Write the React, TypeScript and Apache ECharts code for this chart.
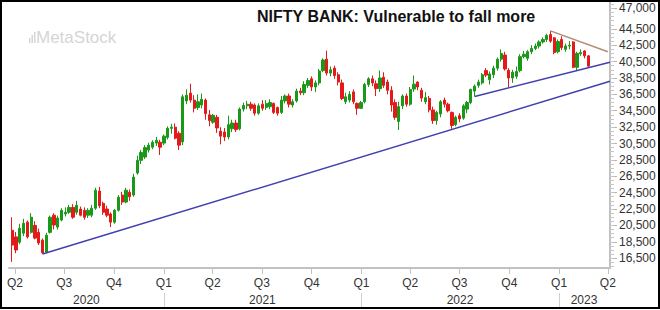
import React, { useEffect, useRef } from 'react';
import * as echarts from 'echarts';

const TITLE = 'NIFTY BANK: Vulnerable to fall more';
const WATERMARK = 'MetaStock';
const FIRST_WEEK_ENDING = '2020-03-27';

// weekly candles: [open, close, low, high]
const candles2020: number[][] = [
  [19900, 18100, 16050, 21500], [19100, 17500, 17100, 19700], [18450, 20150, 18200, 20700],
  [19550, 20750, 19200, 21300], [20900, 19100, 18900, 21100], [19650, 21500, 19500, 22000],
  [20500, 18950, 18800, 21000], [19650, 18350, 18100, 20100], [18700, 17150, 17000, 18900],
  [17250, 19300, 17100, 19600], [19650, 21500, 19500, 21700], [21750, 20550, 20000, 22000],
  [20300, 21400, 20000, 21700], [21150, 22350, 21000, 22600], [21900, 22100, 21600, 22700],
  [22100, 22700, 21900, 23000], [22700, 21500, 21300, 23100], [22100, 22950, 21800, 23500],
  [22500, 21750, 21600, 22800], [22350, 21500, 21200, 22700], [21750, 22350, 21400, 22600],
  [21750, 22600, 21500, 23000], [22600, 24800, 22400, 25100], [24700, 22900, 22600, 25200],
  [23200, 22100, 21800, 23400], [22500, 21750, 21500, 22900], [21900, 20900, 20300, 22100],
  [20900, 22350, 20700, 22500], [22350, 23950, 22200, 24200], [24200, 23350, 23000, 24600],
  [23350, 24800, 23200, 25100], [24550, 24000, 23500, 24900], [24200, 26400, 24000, 26800],
  [26900, 28450, 26700, 29000], [28450, 29400, 28000, 29700], [28850, 30000, 28600, 30300],
  [29700, 30300, 29400, 30600], [30050, 30650, 29800, 30900], [30550, 30900, 30200, 31300],
  [30650, 30050, 29100, 30950],
];
const candles2021: number[][] = [
  [30550, 31400, 30300, 31600], [31250, 32350, 31000, 32600], [32350, 32500, 31700, 32900],
  [32500, 31150, 31000, 32950], [31750, 30300, 29700, 32000], [30700, 36200, 30300, 36500],
  [35700, 36400, 35300, 37100], [36650, 35800, 35500, 37800], [35800, 34800, 34300, 36400],
  [34900, 35600, 34600, 36500], [35200, 35900, 34800, 36600], [35800, 34150, 33400, 36000],
  [34000, 33300, 32600, 34600], [33100, 33950, 32900, 34100], [33700, 32400, 31800, 34000],
  [32000, 31400, 30400, 32500], [31900, 31300, 30800, 32400], [31300, 32800, 31000, 33900],
  [32300, 33000, 31900, 33400], [33000, 32200, 31900, 33400], [32300, 34700, 32100, 34900],
  [34700, 35150, 34400, 35500], [35100, 35300, 34700, 35700], [35300, 34800, 34500, 35600],
  [35200, 34200, 33900, 35400], [34200, 35100, 34000, 35400], [35300, 34800, 34500, 35800],
  [34900, 35400, 34600, 35800], [35000, 35500, 34700, 35900], [35400, 34300, 34100, 35500],
  [34900, 34200, 33900, 35000], [34300, 35800, 34100, 36300], [35700, 36300, 35400, 36500],
  [36300, 35300, 34900, 36600], [35200, 35600, 34900, 35900], [35700, 36900, 35500, 37200],
  [36900, 36700, 36400, 37300], [36700, 37700, 36400, 38100], [37600, 38200, 37300, 38500],
  [38400, 37400, 36900, 38700], [37400, 37900, 36800, 38200], [37900, 39350, 37600, 39600],
  [39400, 40700, 39200, 40900], [40800, 39100, 38800, 41830], [39100, 39500, 38700, 39900],
  [39700, 38800, 38400, 40000], [38900, 38000, 37600, 39200], [37900, 36000, 35800, 38300],
  [35600, 36200, 35300, 36700], [35800, 36500, 35500, 36900], [36800, 35600, 35300, 37100],
  [35400, 34800, 34000, 35500], [34800, 35500, 34700, 35700],
];
const candles2022: number[][] = [
  [35600, 37700, 35400, 37900], [37700, 38400, 37400, 38600], [38400, 37900, 37500, 38800],
  [37800, 37200, 36300, 38200], [37200, 38500, 36800, 39400], [38600, 37600, 37300, 39200],
  [38000, 37000, 36500, 38300], [37000, 35200, 34400, 37500], [35500, 33700, 33400, 35900],
  [33200, 35000, 32150, 35600], [35100, 36300, 34700, 36500], [36300, 35300, 35000, 36600],
  [35300, 37100, 35100, 37400], [37150, 37750, 36800, 38800], [38000, 37400, 37000, 38100],
  [37000, 36050, 35600, 37300], [35600, 36100, 35300, 36800], [36000, 34600, 34300, 36300],
  [34600, 33300, 32900, 35000], [33300, 34300, 32800, 34500], [34100, 35600, 33700, 35800],
  [35800, 35300, 34900, 36100], [35300, 34500, 34300, 35500], [34300, 32700, 32300, 34400],
  [32800, 33700, 32600, 33900], [33900, 33500, 33100, 34200], [33600, 35100, 33400, 35300],
  [34700, 35500, 34200, 35700], [35500, 37100, 35300, 37200], [36900, 37500, 36250, 37700],
  [37600, 38000, 37300, 38300], [37900, 38900, 37700, 39100], [39400, 38850, 38600, 39700],
  [38300, 39000, 37700, 39300], [38900, 39700, 38500, 40000], [39700, 40800, 39400, 41000],
  [40800, 41500, 40500, 42000], [41300, 39600, 39400, 41700], [39450, 38500, 37400, 39700],
  [38500, 39200, 37900, 39500], [38700, 39300, 38400, 39900], [39400, 41100, 39200, 41400],
  [41100, 41400, 40900, 41800], [40900, 41700, 40600, 41900], [41700, 42100, 41400, 42500],
  [42100, 42400, 41900, 42700], [42400, 42900, 42100, 43100], [42900, 43200, 42700, 43450],
  [43200, 43700, 42900, 43900], [43800, 43000, 42800, 44250], [43400, 41600, 41400, 43500],
  [41700, 42950, 41500, 43200],
];
const candles2023: number[][] = [
  [43200, 42200, 41900, 43600], [42000, 42400, 41700, 42700], [42400, 42500, 42000, 43000],
  [42900, 39800, 39700, 43000], [39800, 41500, 39400, 41700], [41450, 41600, 41200, 42000],
  [41800, 41200, 40900, 41900], [41200, 39950, 39800, 41300],
];

// trend lines: [date, value]
const lowerSupport: [string, number][] = [['2020-05-22', 17000], ['2023-04-05', 38100]];
const upperSupport: [string, number][] = [['2022-07-29', 36250], ['2023-04-05', 40430]];
const resistance: [string, number][] = [['2022-12-16', 44250], ['2023-04-01', 41700]];

// axes
const X_MIN = '2020-03-21';
const X_MAX = '2023-04-05';
const Y_MIN = 15300;
const Y_MAX = 47900;
const yLabelValues = [16500, 18500, 20500, 22500, 24500, 26500, 28500, 30500, 32500, 34500, 36500, 38500, 40500, 42500, 44500, 47000];
const Y_MINOR_STEP = 500;
const quarterStarts = [
  '2020-04-01', '2020-07-01', '2020-10-01', '2021-01-01', '2021-04-01', '2021-07-01', '2021-10-01',
  '2022-01-01', '2022-04-01', '2022-07-01', '2022-10-01', '2023-01-01', '2023-04-01',
];
const yearBoundaries = ['2021-01-01', '2022-01-01', '2023-01-01'];
const yearLabelAnchors = ['2020-08-11', '2021-07-02', '2022-07-02', '2023-02-16'];

const FONT = '"Liberation Sans", Arial, sans-serif';
const UP = '#1a981a';
const DOWN = '#e41a1a';
const AXIS_GREY = '#c2c2c2';
const LABEL = '#333333';

const toTs = (s: string) => {
  const [y, m, d] = s.split('-').map(Number);
  return Date.UTC(y, m - 1, d);
};

export default function App() {
  const ref = useRef<HTMLDivElement>(null);
  useEffect(() => {
    if (!ref.current) return;
    const chart = echarts.init(ref.current, undefined, { renderer: 'svg' });
    const DAY = 86400000;
    const base = toTs(FIRST_WEEK_ENDING);
    const all = [...candles2020, ...candles2021, ...candles2022, ...candles2023];
    const candleData = all.map((c, i) => [base + i * 7 * DAY, c[0], c[1], c[2], c[3]]);
    const minorTicks: number[] = [];
    for (let v = Math.ceil(Y_MIN / Y_MINOR_STEP) * Y_MINOR_STEP; v <= Y_MAX; v += Y_MINOR_STEP) minorTicks.push(v);
    const line = (pts: [string, number][], color: string) => ({
      type: 'line',
      data: pts.map((p) => [toTs(p[0]), p[1]]),
      showSymbol: false,
      symbol: 'none',
      silent: true,
      z: 5,
      lineStyle: { color, width: 1.5 },
    });
    const xBase = {
      type: 'value',
      min: toTs(X_MIN),
      max: toTs(X_MAX),
      scale: true,
      splitLine: { show: false },
      minorTick: { show: false },
    };
    const option: any = {
      animation: false,
      backgroundColor: '#ffffff',
      title: {
        text: TITLE,
        left: 257,
        top: 8,
        padding: 0,
        textStyle: { fontSize: 16, fontWeight: 'bold', color: '#111111', fontFamily: FONT },
      },
      graphic: [
        { type: 'text', left: 36, top: 29, silent: true, style: { text: WATERMARK, fontSize: 17, fill: '#d5d5d5', fontFamily: FONT } },
        { type: 'rect', shape: { x: 29, y: 38, width: 1.5, height: 5 }, style: { fill: '#d5d5d5' }, silent: true },
        { type: 'rect', shape: { x: 31.5, y: 35, width: 1.5, height: 8 }, style: { fill: '#d5d5d5' }, silent: true },
        { type: 'rect', shape: { x: 34, y: 32, width: 1.5, height: 11 }, style: { fill: '#d5d5d5' }, silent: true },
      ],
      grid: { left: 9, right: 50, top: 1, bottom: 42, containLabel: false, outerBoundsMode: 'none' },
      xAxis: [
        {
          ...xBase,
          position: 'bottom',
          axisLine: { show: true, onZero: false, lineStyle: { color: AXIS_GREY, width: 2 } },
          axisTick: { show: true, length: 6, customValues: quarterStarts.map(toTs), lineStyle: { color: AXIS_GREY, width: 1 } },
          axisLabel: {
            show: true,
            customValues: quarterStarts.map(toTs),
            margin: 9,
            color: LABEL,
            fontSize: 12,
            fontFamily: FONT,
            showMinLabel: true,
            showMaxLabel: true,
            formatter: (v: number) => 'Q' + (Math.floor(new Date(v).getUTCMonth() / 3) + 1),
          },
        },
        {
          ...xBase,
          position: 'bottom',
          offset: 25,
          axisLine: { show: false, onZero: false },
          axisTick: { show: true, length: 15, inside: false, customValues: yearBoundaries.map(toTs), lineStyle: { color: '#cfcfcf', width: 1 } },
          axisLabel: {
            show: true,
            customValues: yearLabelAnchors.map(toTs),
            margin: 1,
            color: LABEL,
            fontSize: 12,
            fontFamily: FONT,
            showMinLabel: true,
            showMaxLabel: true,
            formatter: (v: number) => String(new Date(v).getUTCFullYear()),
          },
        },
      ],
      yAxis: [
        {
          type: 'value',
          position: 'right',
          min: Y_MIN,
          max: Y_MAX,
          splitLine: { show: false },
          axisLine: { show: true, onZero: false, lineStyle: { color: AXIS_GREY, width: 2 } },
          axisTick: { show: true, length: 7, customValues: yLabelValues, lineStyle: { color: '#b5b5b5', width: 1 } },
          axisLabel: {
            show: true,
            customValues: yLabelValues,
            margin: 9,
            color: LABEL,
            fontSize: 12,
            fontFamily: FONT,
            showMinLabel: true,
            showMaxLabel: true,
            formatter: (v: number) => v.toLocaleString('en-US'),
          },
        },
        {
          type: 'value',
          position: 'right',
          min: Y_MIN,
          max: Y_MAX,
          splitLine: { show: false },
          axisLine: { show: false },
          axisLabel: { show: false },
          axisTick: { show: true, length: 4, customValues: minorTicks, lineStyle: { color: '#c8c8c8', width: 1 } },
        },
      ],
      series: [
        {
          type: 'candlestick',
          xAxisIndex: 0,
          yAxisIndex: 0,
          data: candleData,
          barWidth: 2.8,
          silent: true,
          itemStyle: { color: UP, color0: DOWN, borderColor: UP, borderColor0: DOWN, borderWidth: 1 },
        },
        line(lowerSupport, '#4040b0'),
        line(upperSupport, '#4040b0'),
        line(resistance, '#b38b74'),
      ],
    };
    chart.setOption(option);
    return () => chart.dispose();
  }, []);
  return (
    <div style={{ position: 'fixed', left: 0, top: 0, width: 660, height: 310, background: '#fff' }}>
      <div ref={ref} style={{ position: 'absolute', left: 0, top: 0, width: 660, height: 310 }} />
      <div
        style={{
          position: 'absolute', left: 0, top: 0, width: 660, height: 309,
          border: '2px solid #000', boxSizing: 'border-box', pointerEvents: 'none',
        }}
      />
    </div>
  );
}
